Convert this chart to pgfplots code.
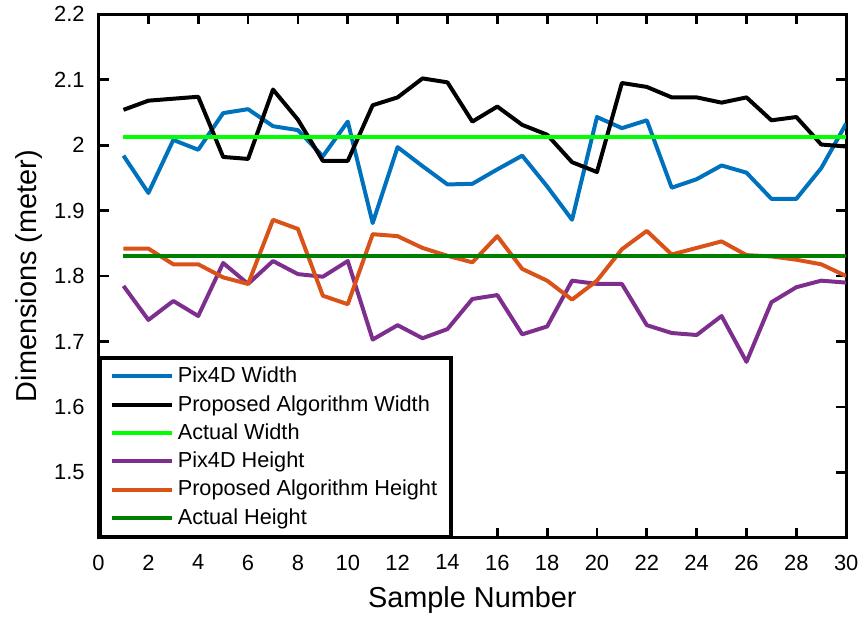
\documentclass[border=0pt]{standalone}
\usepackage{fontspec}
\setmainfont{Liberation Sans}
\usepackage{pgfplots}
\pgfplotsset{compat=1.18}

\definecolor{mblue}{rgb}{0,0.447,0.741}
\definecolor{morange}{rgb}{0.85,0.325,0.098}
\definecolor{mpurple}{rgb}{0.494,0.184,0.556}
\definecolor{mgreen}{rgb}{0,1,0}
\definecolor{mdkgreen}{rgb}{0,0.5,0}

\begin{document}
\begin{tikzpicture}
\begin{axis}[
  scale only axis,
  width=375.5pt, height=263pt,
  xmin=0, xmax=30, ymin=1.4, ymax=2.2,
  xtick={0,2,...,30},
  ytick={1.5,1.6,1.7,1.8,1.9,2.0,2.1,2.2},
  yticklabels={1.5,1.6,1.7,1.8,1.9,2,2.1,2.2},
  tick align=inside,
  major tick length=5pt,
  tick style={black, line width=1.4pt},
  axis line style={line width=1.6pt},
  /pgf/number format/assume math mode=true,
  tick label style={font=\fontsize{11}{13}\selectfont},
  xticklabel style={yshift=-5pt},
  yticklabel style={xshift=-3.5pt},
  xlabel={Sample Number},
  ylabel={Dimensions (meter)},
  label style={font=\fontsize{14.5}{17}\selectfont},
  xlabel style={yshift=-1.5pt},
  ylabel style={yshift=-1pt},
  every axis plot/.append style={line width=2pt, line join=round},
  legend cell align=left,
  legend style={at={(0,0)}, anchor=south west, draw=black, line width=1.6pt,
    font=\fontsize{10.9}{12}\selectfont, row sep=3.6pt, inner xsep=5pt, inner ysep=4pt,
    nodes={inner ysep=0.6pt}},
  legend image code/.code={\draw[#1] (0pt,0pt) -- (30pt,0pt);},
]
\addplot[mblue] coordinates {
  (1,1.984)(2,1.927)(3,2.008)(4,1.993)(5,2.049)(6,2.055)(7,2.029)(8,2.023)(9,1.983)(10,2.036)
  (11,1.881)(12,1.997)(13,1.968)(14,1.940)(15,1.941)(16,1.963)(17,1.984)(18,1.937)(19,1.886)(20,2.043)
  (21,2.026)(22,2.038)(23,1.935)(24,1.948)(25,1.969)(26,1.958)(27,1.918)(28,1.918)(29,1.965)(30,2.033)
};
\addplot[black] coordinates {
  (1,2.054)(2,2.068)(3,2.071)(4,2.074)(5,1.982)(6,1.979)(7,2.085)(8,2.039)(9,1.976)(10,1.976)
  (11,2.061)(12,2.073)(13,2.102)(14,2.096)(15,2.036)(16,2.059)(17,2.031)(18,2.016)(19,1.974)(20,1.959)
  (21,2.095)(22,2.089)(23,2.073)(24,2.073)(25,2.065)(26,2.073)(27,2.038)(28,2.043)(29,2.001)(30,1.998)
};
\addplot[mgreen] coordinates {(1,2.012)(30,2.012)};
\addplot[mpurple] coordinates {
  (1,1.785)(2,1.733)(3,1.762)(4,1.739)(5,1.820)(6,1.788)(7,1.823)(8,1.803)(9,1.799)(10,1.823)
  (11,1.703)(12,1.725)(13,1.705)(14,1.719)(15,1.765)(16,1.771)(17,1.711)(18,1.723)(19,1.793)(20,1.788)
  (21,1.788)(22,1.725)(23,1.713)(24,1.710)(25,1.739)(26,1.669)(27,1.760)(28,1.783)(29,1.793)(30,1.790)
};
\addplot[morange] coordinates {
  (1,1.842)(2,1.842)(3,1.818)(4,1.818)(5,1.798)(6,1.788)(7,1.886)(8,1.872)(9,1.770)(10,1.757)
  (11,1.864)(12,1.861)(13,1.843)(14,1.831)(15,1.821)(16,1.861)(17,1.811)(18,1.793)(19,1.764)(20,1.793)
  (21,1.841)(22,1.869)(23,1.833)(24,1.843)(25,1.853)(26,1.832)(27,1.830)(28,1.825)(29,1.818)(30,1.800)
};
\addplot[mdkgreen] coordinates {(1,1.830)(30,1.830)};
\legend{Pix4D Width, Proposed Algorithm Width, Actual Width, Pix4D Height, Proposed Algorithm Height, Actual Height}
\end{axis}
\path (-49.5pt,-39pt) rectangle (383pt,268.4pt);
\end{tikzpicture}
\end{document}
